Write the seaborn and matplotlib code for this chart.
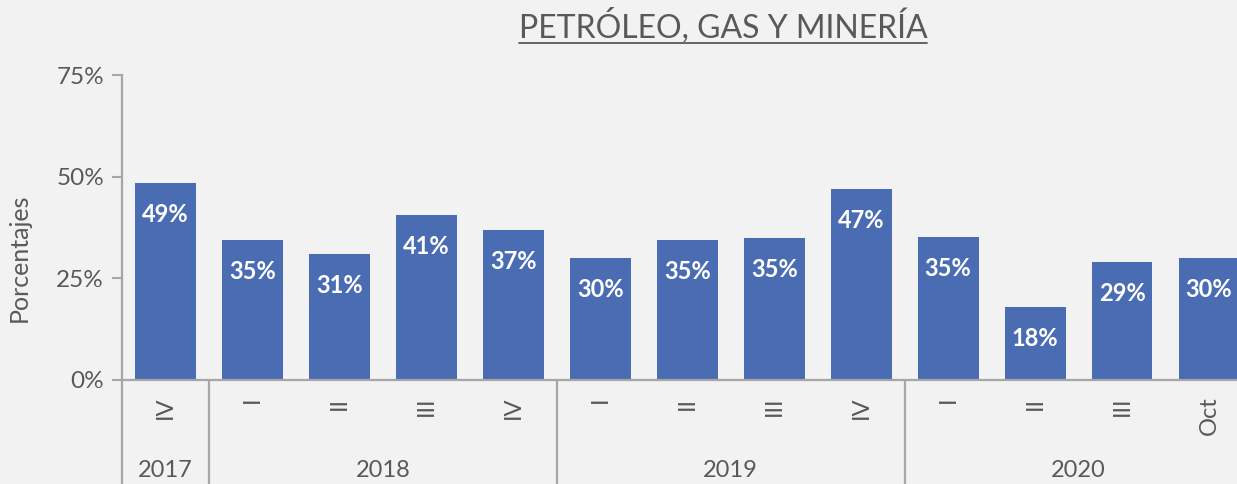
import matplotlib
matplotlib.use("Agg")
import matplotlib.pyplot as plt
import matplotlib.transforms as mtransforms
from matplotlib.lines import Line2D
import seaborn as sns
import pandas as pd

# data
years = ["2017", "2018", "2019", "2020"]
quarters = ["IV", "I", "II", "III", "IV", "I", "II", "III", "IV", "I", "II", "III", "Oct"]
year_of_bar = ["2017", "2018", "2018", "2018", "2018", "2019", "2019", "2019", "2019",
               "2020", "2020", "2020", "2020"]
values = [0.485, 0.345, 0.31, 0.405, 0.37, 0.30, 0.345, 0.35, 0.47, 0.352, 0.18, 0.29, 0.30]
value_labels = ["49%", "35%", "31%", "41%", "37%", "30%", "35%", "35%", "47%",
                "35%", "18%", "29%", "30%"]

df = pd.DataFrame({
    "periodo": [f"{y}-{q}" for y, q in zip(year_of_bar, quarters)],
    "valor": values,
})

bg = "#f2f2f2"
bar_color = "#4a6cb3"
axis_color = "#a6a6a6"
text_color = "#595959"

sns.set_style("white")
plt.rcParams["font.family"] = ["Lato", "DejaVu Sans"]

fig = plt.figure(figsize=(12.37, 4.84), dpi=100, facecolor=bg)
ax = fig.add_axes([122 / 1237, 104 / 484, (1252.5 - 122) / 1237, 305 / 484])
ax.set_facecolor(bg)

sns.barplot(data=df, x="periodo", y="valor", color=bar_color, width=0.7,
            saturation=1, linewidth=0, ax=ax)

ax.bar_label(ax.containers[0], labels=value_labels, padding=-31, color="white",
             fontweight="bold", fontsize=17)

ax.set_xlim(-0.5, len(values) - 0.5)
ax.set_ylim(0, 0.75)
ax.set_yticks([0, 0.25, 0.5, 0.75])
ax.set_yticklabels(["0%", "25%", "50%", "75%"])
ax.set_xticks(range(len(quarters)))
ax.set_xticklabels(quarters, rotation=90)
ax.set_xlabel("")
ax.set_ylabel("Porcentajes", fontsize=18, color=text_color)
ax.yaxis.set_label_coords(-0.081, 0.40)

ax.tick_params(axis="y", colors=axis_color, labelcolor=text_color, labelsize=17.5,
               length=7, width=1.5, left=True, pad=6)
ax.tick_params(axis="x", length=0, labelcolor=text_color, labelsize=17, pad=12)

for side in ["top", "right"]:
    ax.spines[side].set_visible(False)
for side in ["left", "bottom"]:
    ax.spines[side].set_color(axis_color)
    ax.spines[side].set_linewidth(1.6)

# group separators and year labels under the axis
trans = mtransforms.blended_transform_factory(ax.transData, fig.transFigure)
bottom_frac = ax.get_position().y0
start = 0
for yr in years:
    n = year_of_bar.count(yr)
    ax.add_line(Line2D([start - 0.5, start - 0.5], [0, bottom_frac], transform=trans,
                       color=axis_color, lw=1.6, clip_on=False))
    ax.text(start + (n - 1) / 2, 0.028, yr, transform=trans, ha="center", va="center",
            fontsize=17, color=text_color, clip_on=False)
    start += n

# underlined title
title = fig.text(723 / 1237, 0.922, "PETRÓLEO, GAS Y MINERÍA", ha="center",
                 va="baseline", fontsize=23, color=text_color)
fig.canvas.draw()
bb = title.get_window_extent().transformed(fig.transFigure.inverted())
fig.add_artist(Line2D([bb.x0, bb.x1], [0.912, 0.912], transform=fig.transFigure,
                      color=text_color, lw=1.3))

fig.savefig("out.png", dpi=100, facecolor=bg)
